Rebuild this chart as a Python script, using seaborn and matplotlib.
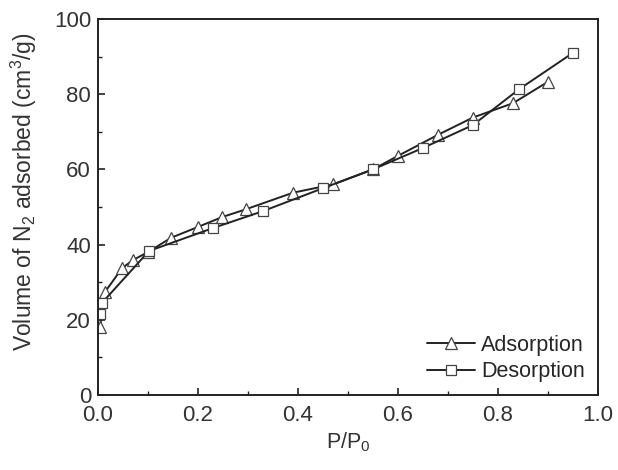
import pandas as pd
import matplotlib.pyplot as plt
import seaborn as sns
from matplotlib.ticker import MultipleLocator

# isotherm data

ads_p = [0.004, 0.014, 0.048, 0.07, 0.10, 0.146, 0.20, 0.248, 0.296, 0.39, 0.47, 0.55, 0.60, 0.68, 0.75, 0.83, 0.90]
ads_v = [18.0, 27.4, 33.7, 35.9, 38.0, 41.8, 44.7, 47.3, 49.4, 53.8, 56.0, 60.0, 63.6, 69.2, 73.8, 77.6, 83.3]

des_p = [0.003, 0.008, 0.102, 0.23, 0.33, 0.45, 0.55, 0.65, 0.75, 0.842, 0.95]
des_v = [21.5, 24.5, 38.3, 44.4, 48.9, 55.0, 60.0, 65.7, 71.8, 81.3, 91.0]

ads = pd.DataFrame({"p": ads_p, "v": ads_v})
des = pd.DataFrame({"p": des_p, "v": des_v})

sns.set_style("ticks")
plt.rcParams["font.family"] = ["Liberation Sans", "DejaVu Sans"]
plt.rcParams["mathtext.fontset"] = "custom"
plt.rcParams["mathtext.rm"] = "Liberation Sans"

fig = plt.figure(figsize=(6.18, 4.70), dpi=100)
ax = fig.add_axes([0.1586, 0.1596, 0.809, 0.80])

sns.lineplot(data=ads, x="p", y="v", ax=ax, color="#222222", lw=1.4, sort=False,
             marker="^", markersize=8, markerfacecolor="white", markeredgecolor="#444444",
             markeredgewidth=0.9, label="Adsorption")
sns.lineplot(data=des, x="p", y="v", ax=ax, color="#222222", lw=1.4, sort=False,
             marker="s", markersize=7, markerfacecolor="white", markeredgecolor="#444444",
             markeredgewidth=0.9, label="Desorption")

ax.set_xlim(0, 1.0)
ax.set_ylim(0, 100)
ax.xaxis.set_major_locator(MultipleLocator(0.2))
ax.xaxis.set_minor_locator(MultipleLocator(0.1))
ax.yaxis.set_major_locator(MultipleLocator(20))
ax.yaxis.set_minor_locator(MultipleLocator(10))
ax.tick_params(which="both", direction="in", labelsize=16, color="#222222", labelcolor="#333333")
ax.tick_params(which="major", length=5, width=1.2)
ax.tick_params(which="minor", length=3, width=1.0)
ax.tick_params(axis="x", which="major", pad=7)
ax.tick_params(axis="y", which="major", pad=5)
for s in ax.spines.values():
    s.set_linewidth(1.4)
    s.set_color("#222222")

ax.set_xlabel("P/P$_0$", fontsize=15.5, color="#333333")
ax.set_ylabel("Volume of N$_2$ adsorbed (cm$^3$/g)", fontsize=16.5, color="#333333")
ax.xaxis.set_label_coords(0.5, -0.095)
ax.yaxis.set_label_coords(-0.118, 0.54)

ax.legend(loc="lower right", frameon=False, fontsize=15.5, handlelength=2.2,
          handletextpad=0.3, borderaxespad=0.2, labelspacing=0.25)

fig.savefig("out.png", dpi=100)
